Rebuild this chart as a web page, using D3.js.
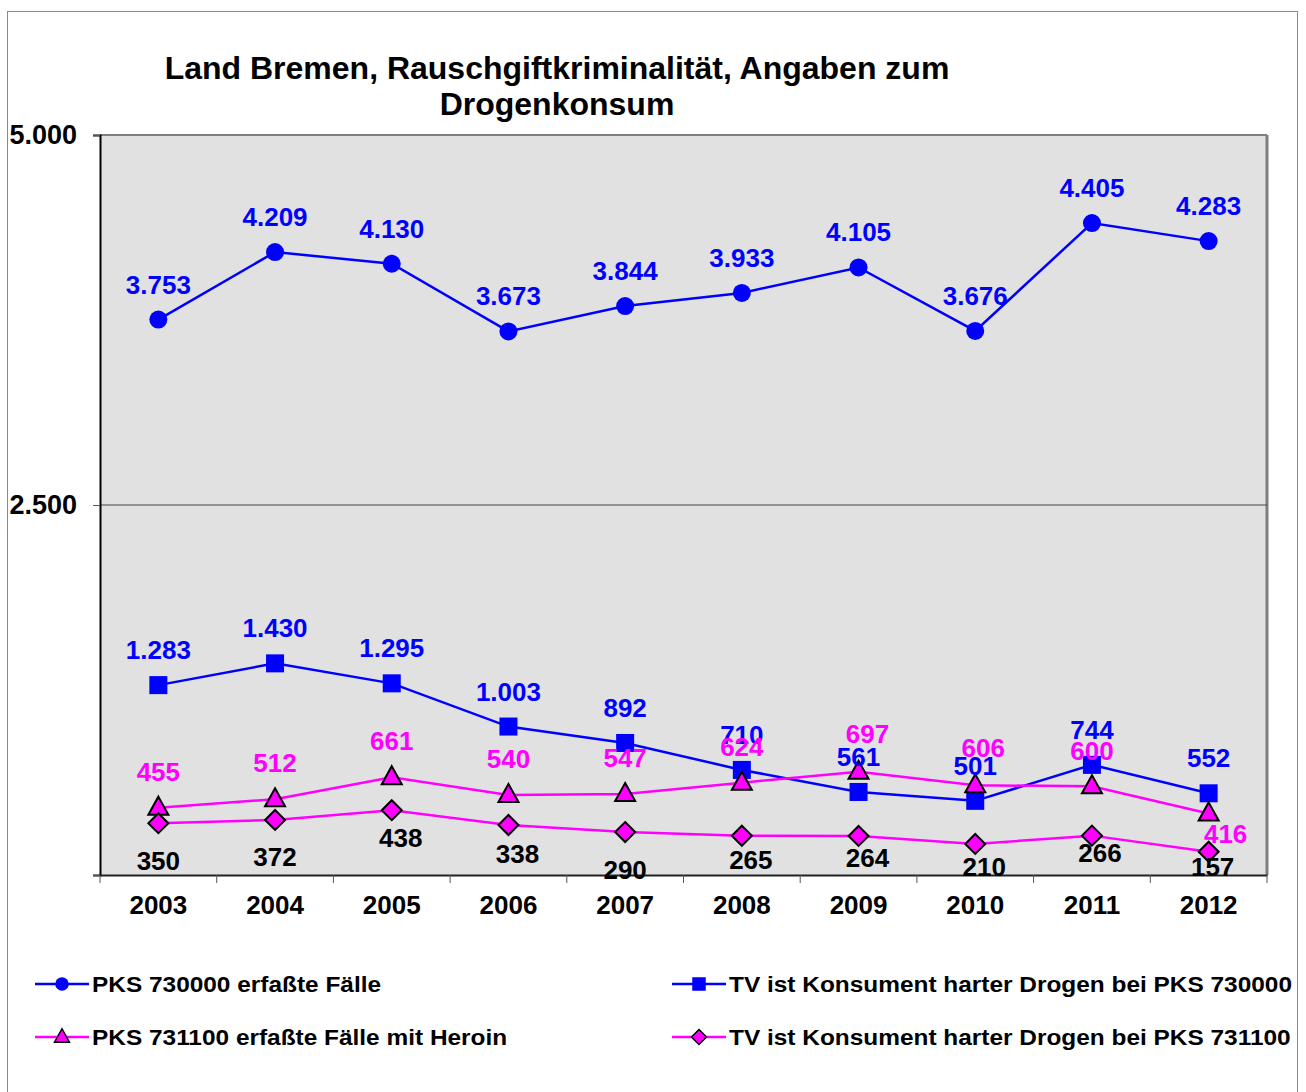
<!DOCTYPE html>
<html>
<head>
<meta charset="utf-8">
<script src="https://cdn.jsdelivr.net/npm/d3@7"></script>
<style>
  body { margin: 0; background: #fff; }
  text { font-family: "Liberation Sans", Arial, sans-serif; font-weight: bold; }
</style>
</head>
<body>
<svg id="chart"></svg>
<script>
// Daten
var years = ["2003", "2004", "2005", "2006", "2007", "2008", "2009", "2010", "2011", "2012"];
var pks730000 = [3753, 4209, 4130, 3673, 3844, 3933, 4105, 3676, 4405, 4283];
var tv730000 = [1283, 1430, 1295, 1003, 892, 710, 561, 501, 744, 552];
var pks731100 = [455, 512, 661, 540, 547, 624, 697, 606, 600, 416];
var tv731100 = [350, 372, 438, 338, 290, 265, 264, 210, 266, 157];
var yTicks = [0, 2500, 5000];
var seriesNames = [
  "PKS 730000 erfaßte Fälle",
  "TV ist Konsument harter Drogen bei PKS 730000",
  "PKS 731100 erfaßte Fälle mit Heroin",
  "TV ist Konsument harter Drogen bei PKS 731100"
];
// Verschiebung einzelner Beschriftungen (dx, dy in px)
var labelShift731100 = [[0, -36], [0, -36], [0, -36], [0, -36], [0, -36], [0, -36], [9, -38], [8, -37], [0, -35], [17, 21]];
var labelShiftTv731100 = [[0, 38], [0, 37], [9, 28], [9, 29], [0, 38], [9, 24], [9, 22], [9, 23], [8, 17], [4, 15]];

var width = 1306, height = 1092;
var plot = { left: 100, right: 1267, top: 135, bottom: 875 };

var svg = d3.select("#chart").attr("width", width).attr("height", height);

// Rahmen
svg.append("rect").attr("x", 7.5).attr("y", 11.5).attr("width", 1290).attr("height", 1100)
  .attr("fill", "#fff").attr("stroke", "#8a8a8a").attr("stroke-width", 1);

// Skalen
var x = d3.scaleBand().domain(years).range([plot.left, plot.right]);
var y = d3.scaleLinear().domain([0, 5000]).range([plot.bottom, plot.top]);
var cx = function (d, i) { return x(years[i]) + x.bandwidth() / 2; };

// Zeichenfläche
svg.append("rect").attr("x", plot.left).attr("y", plot.top)
  .attr("width", plot.right - plot.left).attr("height", plot.bottom - plot.top)
  .attr("fill", "#e1e1e1");
svg.append("line").attr("x1", plot.left).attr("x2", plot.right).attr("y1", plot.top).attr("y2", plot.top)
  .attr("stroke", "#7f7f7f").attr("stroke-width", 2);
svg.append("line").attr("x1", plot.right).attr("x2", plot.right).attr("y1", plot.top).attr("y2", plot.bottom)
  .attr("stroke", "#7f7f7f").attr("stroke-width", 3);

// Gitterlinie
svg.append("line").attr("x1", plot.left).attr("x2", plot.right).attr("y1", y(2500)).attr("y2", y(2500))
  .attr("stroke", "#444").attr("stroke-width", 1);

// y-Achse
var fmt = function (v) { return d3.format(",")(v).replace(/,/g, "."); };
var yAxis = svg.append("g").attr("transform", "translate(" + plot.left + ",0)")
  .call(d3.axisLeft(y).tickValues(yTicks).tickSize(7).tickFormat(function (d) { return d === 0 ? "" : fmt(d); }));
yAxis.select(".domain").attr("stroke", "#000").attr("stroke-width", 2);
yAxis.selectAll(".tick line").attr("stroke", "#555");
yAxis.selectAll(".tick text").attr("x", -23).attr("fill", "#000")
  .style("font-size", "27px").style("font-family", "'Liberation Sans', Arial, sans-serif").style("font-weight", "bold");

// x-Achse
var xAxis = svg.append("g").attr("transform", "translate(0," + plot.bottom + ")")
  .call(d3.axisBottom(x).tickSize(0).tickPadding(21));
xAxis.select(".domain").attr("stroke", "#222").attr("stroke-width", 2);
xAxis.selectAll(".tick text").attr("fill", "#000")
  .style("font-size", "26px").style("font-family", "'Liberation Sans', Arial, sans-serif").style("font-weight", "bold");
// Teilstriche zwischen den Kategorien
svg.append("g").selectAll("line").data(years.concat(["end"])).enter().append("line")
  .attr("x1", function (d, i) { return plot.left + i * x.bandwidth(); })
  .attr("x2", function (d, i) { return plot.left + i * x.bandwidth(); })
  .attr("y1", plot.bottom).attr("y2", plot.bottom + 8)
  .attr("stroke", "#555").attr("stroke-width", 1);

// Titel
var title = svg.append("text").attr("text-anchor", "middle").style("font-size", "32px").attr("fill", "#000");
title.append("tspan").attr("x", 557).attr("y", 79).text("Land Bremen, Rauschgiftkriminalität, Angaben zum");
title.append("tspan").attr("x", 557).attr("y", 115).text("Drogenkonsum");

var line = d3.line().x(cx).y(function (d) { return y(d); });

var series = [
  { data: pks730000, color: "#0000ff", marker: "circle", labelColor: "#0000ff" },
  { data: tv730000, color: "#0000ff", marker: "square", labelColor: "#0000ff" },
  { data: pks731100, color: "#ff00ff", marker: "triangle", labelColor: "#ff00ff", shift: labelShift731100 },
  { data: tv731100, color: "#ff00ff", marker: "diamond", labelColor: "#000", shift: labelShiftTv731100 }
];

function drawMarker(g, type, color) {
  if (type === "circle") {
    g.append("circle").attr("r", 9).attr("fill", color);
  } else if (type === "square") {
    g.append("rect").attr("x", -9).attr("y", -9).attr("width", 18).attr("height", 18).attr("fill", color);
  } else if (type === "triangle") {
    g.append("path").attr("d", "M0,-11L10,7L-10,7Z").attr("fill", color).attr("stroke", "#000").attr("stroke-width", 2);
  } else {
    g.append("path").attr("d", "M0,-10L10,0L0,10L-10,0Z").attr("fill", color).attr("stroke", "#000").attr("stroke-width", 2);
  }
}

// Linien
series.forEach(function (s) {
  svg.append("path").datum(s.data).attr("d", line).attr("fill", "none")
    .attr("stroke", s.color).attr("stroke-width", 2.5);
});
// Marker
series.forEach(function (s) {
  svg.append("g").selectAll("g").data(s.data).enter().append("g")
    .attr("transform", function (d, i) { return "translate(" + cx(d, i) + "," + y(d) + ")"; })
    .each(function () { drawMarker(d3.select(this), s.marker, s.color); });
});
// Beschriftungen
series.forEach(function (s) {
  svg.append("g").selectAll("text").data(s.data).enter().append("text")
    .attr("x", function (d, i) { return cx(d, i) + (s.shift ? s.shift[i][0] : 0); })
    .attr("y", function (d, i) { return y(d) + (s.shift ? s.shift[i][1] : -35) + 9; })
    .attr("text-anchor", "middle").attr("fill", s.labelColor).style("font-size", "26px")
    .text(function (d) { return fmt(d); });
});

// Legende
var legend = [
  { x: 35, y: 984, s: 0 }, { x: 672, y: 984, s: 1 },
  { x: 35, y: 1037, s: 2 }, { x: 672, y: 1037, s: 3 }
];
legend.forEach(function (l) {
  var s = series[l.s];
  var g = svg.append("g").attr("transform", "translate(" + l.x + "," + l.y + ")");
  g.append("line").attr("x1", 0).attr("x2", 54).attr("stroke", s.color).attr("stroke-width", 2.5);
  var m = g.append("g").attr("transform", "translate(27,0) scale(0.75)");
  drawMarker(m, s.marker, s.color);
  g.append("text").attr("transform", "translate(57,8) scale(1.11,1)").style("font-size", "22px").attr("fill", "#000")
    .text(seriesNames[l.s]);
});
</script>
</body>
</html>
